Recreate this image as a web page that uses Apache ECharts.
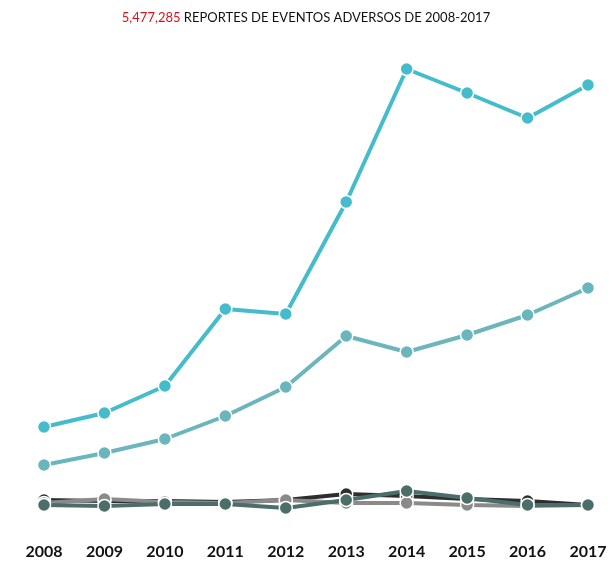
<!DOCTYPE html>
<html>
<head>
<meta charset="utf-8">
<script src="https://cdn.jsdelivr.net/npm/echarts@6/dist/echarts.min.js"></script>
<style>
  html, body { margin: 0; padding: 0; background: #fff; }
  #main { width: 612px; height: 570px; }
</style>
</head>
<body>
<div id="main"></div>
<script>
// years on the x axis
const years = ['2008', '2009', '2010', '2011', '2012', '2013', '2014', '2015', '2016', '2017'];

// values (relative units)
const serieA = [85, 99, 126, 203, 198, 310, 443, 419, 394, 427];
const serieB = [47, 59, 73, 96, 125, 176, 160, 177, 197, 224];
const serieC = [12, 11, 11, 10, 12, 18, 16, 13, 11, 7];
const serieD = [7, 6, 8, 8, 4, 12, 21, 14, 7, 7];
const serieE = [9, 13, 10, 9, 12, 9, 9, 7, 6, 7];

const chart = echarts.init(document.getElementById('main'));

const mkLine = (name, data, color) => ({
    name: name,
    type: 'line',
    data: data,
    symbol: 'circle',
    symbolSize: 13,
    lineStyle: { width: 4, color: color },
    itemStyle: { color: color, borderColor: '#fff', borderWidth: 1.5 }
});

const option = {
    animation: false,
    title: {
        text: '{r|5,477,285} REPORTES DE EVENTOS ADVERSOS DE 2008-2017',
        left: 'center',
        top: 6,
        textStyle: {
            fontFamily: 'Lato',
            fontSize: 13,
            fontWeight: 'normal',
            color: '#111',
            rich: { r: { color: '#e0101a', fontFamily: 'Lato', fontSize: 13 } }
        }
    },
    grid: { left: 44, right: 24, top: 62, bottom: 58 },
    xAxis: {
        type: 'category',
        boundaryGap: false,
        data: years,
        axisLine: { show: false },
        axisTick: { show: false },
        axisLabel: { margin: 32, fontFamily: 'Lato', fontWeight: 'bold', fontSize: 16, color: '#111' }
    },
    yAxis: {
        type: 'value',
        min: 0,
        max: 450,
        show: false,
        splitLine: { show: false }
    },
    series: [
        mkLine('A', serieA, '#45bccb'),
        mkLine('B', serieB, '#6bb5bd'),
        mkLine('C', serieC, '#2e2e2e'),
        mkLine('E', serieE, '#8a8a8a'),
        mkLine('D', serieD, '#4b6e6a')
    ]
};

chart.setOption(option);
</script>
</body>
</html>
